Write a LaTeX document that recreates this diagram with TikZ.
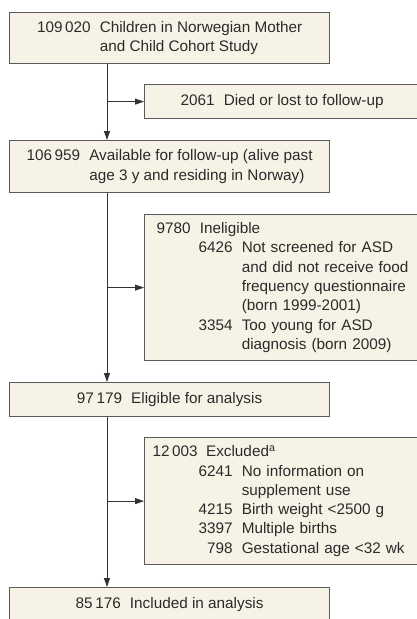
\documentclass[tikz,border=0pt]{standalone}
\usepackage{fontspec}
\setmainfont{Liberation Sans}
\usetikzlibrary{arrows.meta}
\definecolor{boxfill}{HTML}{F6F3E6}
\definecolor{boxline}{HTML}{5A5A5A}
\definecolor{linecol}{HTML}{333333}
\definecolor{txt}{HTML}{2A2A2A}
\begin{document}
\begin{tikzpicture}[x=1pt,y=-1pt,
  box/.style={draw=boxline, line width=1.2pt, fill=boxfill, rectangle, inner sep=0pt,
    text=txt, font=\fontsize{15.3}{19.3}\selectfont, anchor=north west},
  leftbox/.style={box, align=left, minimum width=275pt, text width=#1},
  arr/.style={draw=linecol, line width=0.9pt, -{Triangle[length=9pt,width=6pt]}}]
\useasboundingbox (0,0) rectangle (417,619);
\clip (0,0) rectangle (417,619);
\coordinate (spine) at (107,0);

\node[box, minimum width=320pt, minimum height=51pt] (b1) at (9,12)
  {\begin{tabular}{@{}l@{\hspace{0.6em}}l@{}}109\,020 & Children in Norwegian Mother\\ & and Child Cohort Study\end{tabular}};
\node[box, minimum width=275pt, minimum height=34pt] (b2) at (144,84)
  {2061\hspace{0.6em}Died or lost to follow-up};
\node[box, minimum width=320pt, minimum height=52pt] (b3) at (9,140)
  {\begin{tabular}{@{}l@{\hspace{0.6em}}l@{}}106\,959 & Available for follow-up (alive past\\ & age 3 y and residing in Norway)\end{tabular}};
\node[leftbox=251pt, inner xsep=12pt, minimum height=146pt] (b4) at (144,214)
  {\begin{tabular}{@{\hspace{42pt}}r@{\hspace{0.6em}}l@{}}
   \multicolumn{2}{@{}l@{}}{9780\hspace{0.6em}Ineligible}\\
   6426 & Not screened for ASD\\
        & and did not receive food\\
        & frequency questionnaire\\
        & (born 1999-2001)\\
   3354 & Too young for ASD\\
        & diagnosis (born 2009)
   \end{tabular}};
\node[box, minimum width=320pt, minimum height=34pt] (b5) at (9,382)
  {97\,179\hspace{0.6em}Eligible for analysis};
\node[leftbox=259pt, inner xsep=8pt, minimum height=127pt] (b6) at (144,437)
  {\begin{tabular}{@{\hspace{46pt}}r@{\hspace{0.6em}}l@{}}
   \multicolumn{2}{@{}l@{}}{12\,003\hspace{0.55em}Excluded\textsuperscript{a}}\\
   6241 & No information on\\
        & supplement use\\
   4215 & Birth weight <2500 g\\
   3397 & Multiple births\\
   798  & Gestational age <32 wk
   \end{tabular}};
\node[box, minimum width=320pt, minimum height=34pt] (b7) at (9,587)
  {85\,176\hspace{0.6em}Included in analysis};

\draw[arr] (b1.south -| spine) -- (b3.north -| spine);
\draw[arr] (b3.south -| spine) -- (b5.north -| spine);
\draw[arr] (b5.south -| spine) -- (b7.north -| spine);
\draw[arr] (b2.west -| spine) -- (b2.west);
\draw[arr] (b4.west -| spine) -- (b4.west);
\draw[arr] (b6.west -| spine) -- (b6.west);
\end{tikzpicture}
\end{document}
